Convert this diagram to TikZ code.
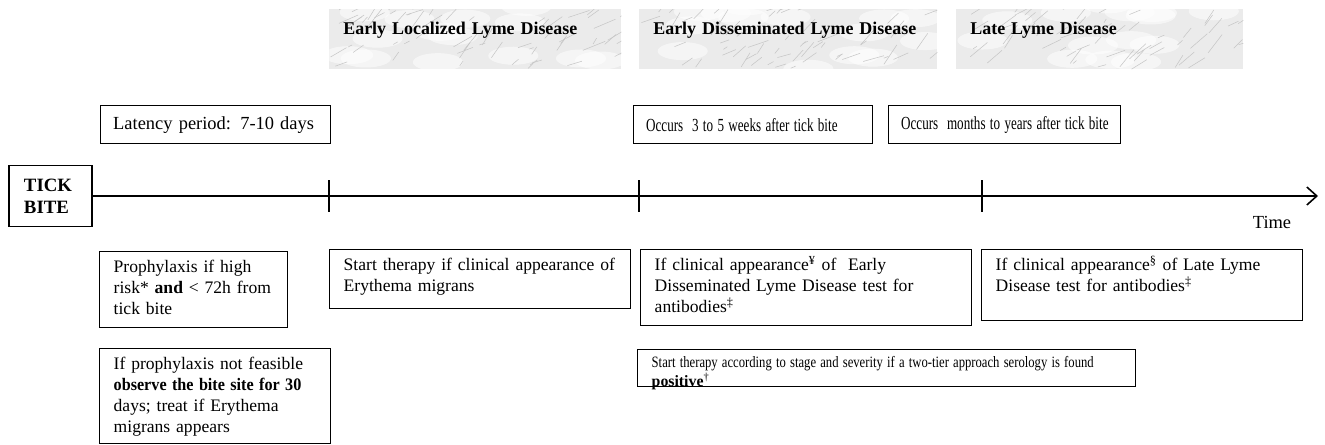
\documentclass[tikz,border=0pt]{standalone}
\usepackage{fontspec}
\setmainfont{Liberation Serif}
\usepackage{graphicx}
\usetikzlibrary{arrows.meta}
\hyphenpenalty=10000
\exhyphenpenalty=10000

\begin{document}
\begin{tikzpicture}[
    axis/.style={line width=0.9pt, -{Straight Barb[length=2mm, width=3.6mm]}},
    tickmark/.style={line width=0.9pt},
    stageband/.style={anchor=north west, fill=gray!16, align=left,
        font=\fontsize{10.2}{12}\selectfont\bfseries,
        inner xsep=0.28cm, inner ysep=0.14cm, text height=0.36cm, text depth=0.56cm,
        path picture={
            \foreach \k in {1,...,14} {
                \pgfmathsetmacro{\rx}{rnd*6.2}
                \pgfmathsetmacro{\ry}{rnd*1.3}
                \fill[white, opacity=0.55] ([shift={(\rx,\ry)}]path picture bounding box.south west) ellipse (0.5 and 0.18);
            }
            \foreach \k in {1,...,70} {
                \pgfmathsetmacro{\rx}{rnd*6.2}
                \pgfmathsetmacro{\ry}{rnd*1.3}
                \pgfmathsetmacro{\ra}{15+rnd*45}
                \pgfmathsetmacro{\rl}{0.08+rnd*0.4}
                \draw[gray!45, line width=0.3pt] ([shift={(\rx,\ry)}]path picture bounding box.south west) -- ++(\ra:\rl);
            }
        }},
    periodbox/.style={draw, line width=0.8pt, anchor=north west, align=left,
        font=\fontsize{10.5}{13}\selectfont, inner xsep=0.25cm, inner ysep=0pt, minimum height=0.76cm},
    notebox/.style={draw, line width=0.8pt, anchor=north west, align=left,
        font=\fontsize{10}{12}\selectfont, inner xsep=0.28cm, inner ysep=0.14cm, text height=0.28cm},
    bitebox/.style={draw, line width=0.9pt, align=left, font=\fontsize{10.7}{12.5}\selectfont\bfseries,
        text width=1.06cm, inner xsep=0.3cm, minimum height=1.22cm},
]

\useasboundingbox (0,0) rectangle (26.5,8.88);
\def\axisy{4.96}
\pgfmathsetseed{7}

% Stage headers
\node[stageband, text width=5.28cm] (localized) at (6.58,8.70) {Early Localized Lyme Disease};
\node[stageband, text width=5.40cm] (disseminated) at (12.78,8.70) {Early Disseminated Lyme Disease};
\node[stageband, text width=5.18cm] (latestage) at (19.12,8.70) {Late Lyme Disease};

% Time after the bite
\node[periodbox, text width=4.10cm] (latency) at (2.00,6.78) {Latency period: 7-10 days};
\node[periodbox, text width=4.28cm] (weeks) at (12.66,6.78) {\scalebox{0.71}[1]{Occurs~ 3 to 5 weeks after tick bite}};
\node[periodbox, text width=4.14cm] (years) at (17.76,6.78) {\scalebox{0.71}[1]{Occurs~ months to years after tick bite}};

% Time axis
\node[bitebox] (bite) at (1.01,\axisy) {TICK\\BITE};
\coordinate (tend) at (26.36,\axisy);
\draw[axis] (bite.east) -- (tend);
\foreach \tx/\tn in {6.58/t1, 12.78/t2, 19.64/t3} {
    \coordinate (\tn) at (\tx,\axisy);
    \draw[tickmark] ([yshift=0.32cm]\tn) -- ([yshift=-0.32cm]\tn);
}
\node[font=\fontsize{10.5}{12}\selectfont] (timelbl) at (25.44,4.44) {Time};

% What to do
\node[notebox, text width=3.20cm, text depth=0.96cm] (prophylaxis) at (1.98,3.86)
    {Prophylaxis if high\\risk* \textbf{and} < 72h from\\tick bite};
\node[notebox, text width=4.06cm, text depth=1.34cm] (observe) at (1.98,1.92)
    {If prophylaxis not feasible\\\scalebox{0.92}[1]{\textbf{observe the bite site for 30}}\\days; treat if Erythema\\migrans appears};
\node[notebox, text width=5.46cm, text depth=0.62cm] (therapyem) at (6.58,3.90)
    {Start therapy if clinical appearance of\\Erythema migrans};
\node[notebox, text width=6.06cm, text depth=0.96cm] (testearly) at (12.80,3.90)
    {If clinical appearance\textsuperscript{¥} of~ Early\\Disseminated Lyme Disease test for\\antibodies\textsuperscript{‡}};
\node[notebox, text width=5.86cm, text depth=0.86cm] (testlate) at (19.62,3.90)
    {If clinical appearance\textsuperscript{§} of Late Lyme\\Disease test for antibodies\textsuperscript{‡}};
\node[notebox, font=\fontsize{9}{9.1}\selectfont, text width=9.40cm, text height=0.22cm, text depth=0.24cm] (therapypos) at (12.74,1.90)
    {\lineskiplimit=-10pt\relax\scalebox{0.8}[1]{Start therapy according to stage and severity if a two-tier approach serology is found}\\\textbf{positive}\textsuperscript{†}};

\end{tikzpicture}
\end{document}
